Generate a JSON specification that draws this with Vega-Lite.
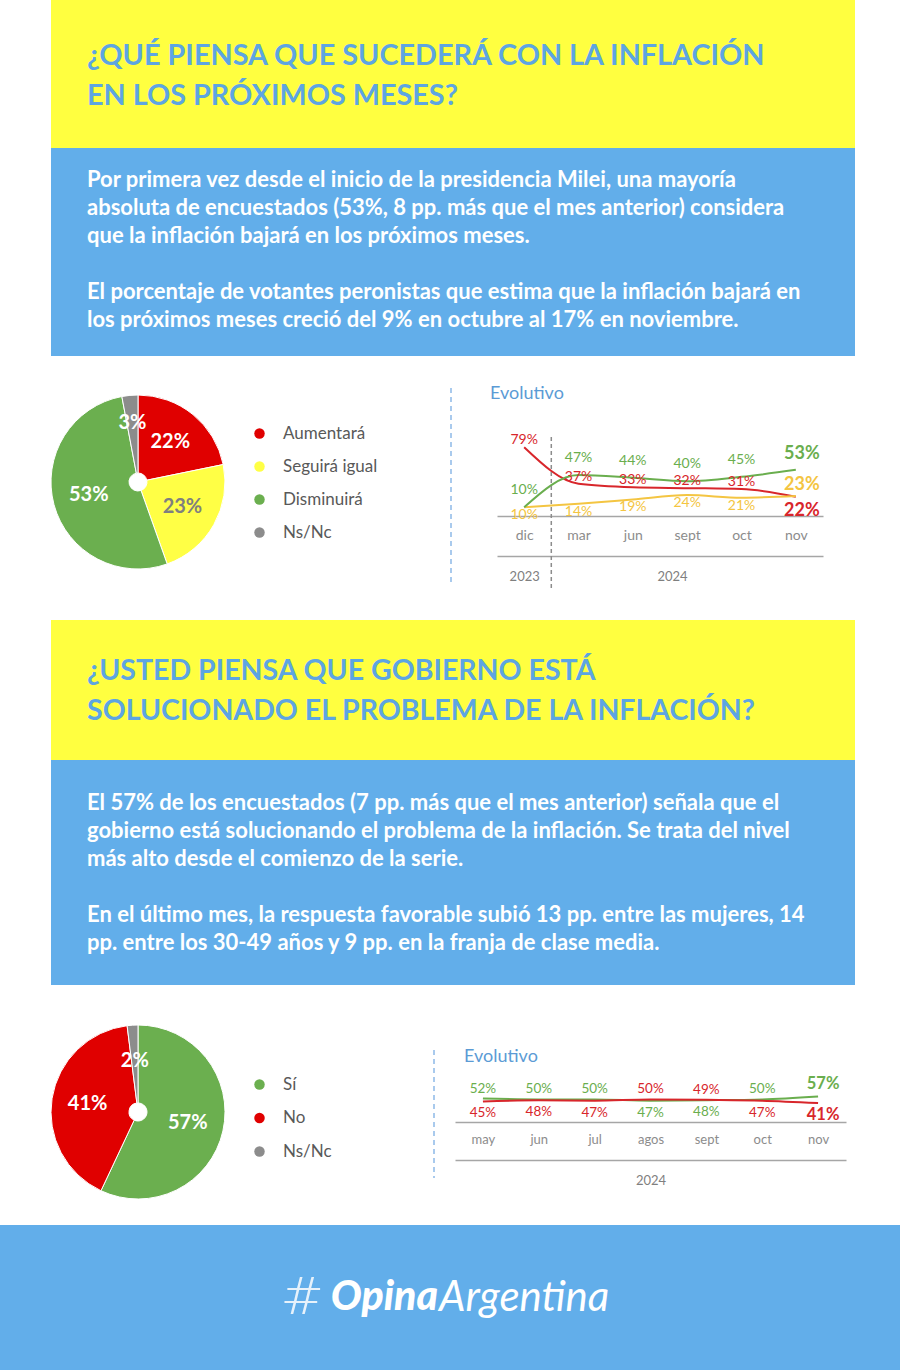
{
  "$schema": "https://vega.github.io/schema/vega-lite/v6.json",
  "background": "white",
  "padding": 0,
  "spacing": 0,
  "config": {"view": {"stroke": null}, "font": "Lato", "concat": {"spacing": 0}},
  "datasets": {
    "textos": [
      {"id": "t1", "texto": "¿QUÉ PIENSA QUE SUCEDERÁ CON LA INFLACIÓN\nEN LOS PRÓXIMOS MESES?"},
      {"id": "b1a", "texto": "Por primera vez desde el inicio de la presidencia Milei, una mayoría\nabsoluta de encuestados (53%, 8 pp. más que el mes anterior) considera\nque la inflación bajará en los próximos meses."},
      {"id": "b1b", "texto": "El porcentaje de votantes peronistas que estima que la inflación bajará en\nlos próximos meses creció del 9% en octubre al 17% en noviembre."},
      {"id": "t2", "texto": "¿USTED PIENSA QUE GOBIERNO ESTÁ\nSOLUCIONADO EL PROBLEMA DE LA INFLACIÓN?"},
      {"id": "b2a", "texto": "El 57% de los encuestados (7 pp. más que el mes anterior) señala que el\ngobierno está solucionando el problema de la inflación. Se trata del nivel\nmás alto desde el comienzo de la serie."},
      {"id": "b2b", "texto": "En el último mes, la respuesta favorable subió 13 pp. entre las mujeres, 14\npp. entre los 30-49 años y 9 pp. en la franja de clase media."},
      {"id": "evo", "texto": "Evolutivo"},
      {"id": "hash", "texto": "#"},
      {"id": "opina", "texto": "Opina"},
      {"id": "argentina", "texto": "Argentina"}
    ],
    "pie1": [
      {"cat": "Aumentará", "valor": 0.22, "orden": 1},
      {"cat": "Seguirá igual", "valor": 0.23, "orden": 2},
      {"cat": "Disminuirá", "valor": 0.53, "orden": 3},
      {"cat": "Ns/Nc", "valor": 0.03, "orden": 4}
    ],
    "pie2": [
      {"cat": "Sí", "valor": 0.57, "orden": 1},
      {"cat": "No", "valor": 0.41, "orden": 2},
      {"cat": "Ns/Nc", "valor": 0.02, "orden": 3}
    ],
    "evo1": [
      {"mes": "dic", "serie": "Aumentará", "valor": 0.79},
      {"mes": "mar", "serie": "Aumentará", "valor": 0.37},
      {"mes": "jun", "serie": "Aumentará", "valor": 0.33},
      {"mes": "sept", "serie": "Aumentará", "valor": 0.32},
      {"mes": "oct", "serie": "Aumentará", "valor": 0.31},
      {"mes": "nov", "serie": "Aumentará", "valor": 0.22},
      {"mes": "dic", "serie": "Seguirá igual", "valor": 0.10},
      {"mes": "mar", "serie": "Seguirá igual", "valor": 0.14},
      {"mes": "jun", "serie": "Seguirá igual", "valor": 0.19},
      {"mes": "sept", "serie": "Seguirá igual", "valor": 0.24},
      {"mes": "oct", "serie": "Seguirá igual", "valor": 0.21},
      {"mes": "nov", "serie": "Seguirá igual", "valor": 0.23},
      {"mes": "dic", "serie": "Disminuirá", "valor": 0.10},
      {"mes": "mar", "serie": "Disminuirá", "valor": 0.47},
      {"mes": "jun", "serie": "Disminuirá", "valor": 0.44},
      {"mes": "sept", "serie": "Disminuirá", "valor": 0.40},
      {"mes": "oct", "serie": "Disminuirá", "valor": 0.45},
      {"mes": "nov", "serie": "Disminuirá", "valor": 0.53}
    ],
    "evo2": [
      {"mes": "may", "serie": "Sí", "valor": 0.52},
      {"mes": "jun", "serie": "Sí", "valor": 0.50},
      {"mes": "jul", "serie": "Sí", "valor": 0.50},
      {"mes": "agos", "serie": "Sí", "valor": 0.47},
      {"mes": "sept", "serie": "Sí", "valor": 0.48},
      {"mes": "oct", "serie": "Sí", "valor": 0.50},
      {"mes": "nov", "serie": "Sí", "valor": 0.57},
      {"mes": "may", "serie": "No", "valor": 0.45},
      {"mes": "jun", "serie": "No", "valor": 0.48},
      {"mes": "jul", "serie": "No", "valor": 0.47},
      {"mes": "agos", "serie": "No", "valor": 0.50},
      {"mes": "sept", "serie": "No", "valor": 0.49},
      {"mes": "oct", "serie": "No", "valor": 0.47},
      {"mes": "nov", "serie": "No", "valor": 0.41}
    ]
  },
  "resolve": {"scale": {"color": "independent", "theta": "independent"}, "legend": {"color": "independent"}},
  "vconcat": [
    {
      "resolve": {"scale": {"color": "independent", "theta": "independent"}, "legend": {"color": "independent"}},
      "hconcat": [
        {"width": 51, "height": 1225, "data": {"name": "textos"}, "transform": [{"filter": "false"}], "mark": "text", "encoding": {"text": {"field": "texto", "type": "nominal"}}},
        {
          "spacing": 0,
          "resolve": {"scale": {"color": "independent", "theta": "independent"}, "legend": {"color": "independent"}},
          "vconcat": [
            {
              "spacing": 0, "bounds": "flush",
              "hconcat": [
                {"width": 36, "height": 148, "view": {"fill": "#FFFF40"}, "data": {"name": "textos"}, "transform": [{"filter": "false"}], "mark": "text", "encoding": {"text": {"field": "texto", "type": "nominal"}}},
                {"width": 768, "height": 148, "view": {"fill": "#FFFF40"}, "data": {"name": "textos"}, "transform": [{"filter": "datum.id === 't1'"}],
                 "mark": {"type": "text", "align": "left", "baseline": "middle", "lineBreak": "\n", "lineHeight": 40, "dy": -18, "fontSize": 28.8, "fontWeight": "bold", "color": "#5DA5E2"},
                 "encoding": {"text": {"field": "texto", "type": "nominal"}, "x": {"value": 0}}}
              ]
            },
            {
              "spacing": 0, "bounds": "flush",
              "hconcat": [
                {"width": 36, "height": 208, "view": {"fill": "#62AEEA"}, "data": {"name": "textos"}, "transform": [{"filter": "false"}], "mark": "text", "encoding": {"text": {"field": "texto", "type": "nominal"}}},
                {"width": 768, "height": 208, "view": {"fill": "#62AEEA"}, "data": {"name": "textos"},
                 "layer": [
                   {"transform": [{"filter": "datum.id === 'b1a'"}],
                    "mark": {"type": "text", "align": "left", "baseline": "middle", "lineBreak": "\n", "lineHeight": 28, "dy": -72, "fontSize": 22, "fontWeight": "bold", "color": "white"},
                    "encoding": {"text": {"field": "texto", "type": "nominal"}, "x": {"value": 0}}},
                   {"transform": [{"filter": "datum.id === 'b1b'"}],
                    "mark": {"type": "text", "align": "left", "baseline": "middle", "lineBreak": "\n", "lineHeight": 28, "dy": 40, "fontSize": 22, "fontWeight": "bold", "color": "white"},
                    "encoding": {"text": {"field": "texto", "type": "nominal"}, "x": {"value": 0}}}
                 ]}
              ]
            },
            {
              "spacing": 0, "bounds": "flush",
              "resolve": {"scale": {"color": "independent", "theta": "independent"}, "legend": {"color": "independent"}},
              "hconcat": [
                {
                  "width": 174, "height": 252, "data": {"name": "pie1"},
                  "encoding": {"theta": {"field": "valor", "type": "quantitative", "stack": true}, "order": {"field": "orden", "type": "quantitative"}},
                  "layer": [
                    {"mark": {"type": "arc", "innerRadius": 9, "stroke": "white", "strokeWidth": 1},
                     "encoding": {"color": {"field": "cat", "type": "nominal",
                       "scale": {"domain": ["Aumentará", "Seguirá igual", "Disminuirá", "Ns/Nc"], "range": ["#E00000", "#FFFF45", "#6BAF4F", "#8C8C8C"]},
                       "legend": {"orient": "none", "legendX": 200, "legendY": 69, "title": null, "symbolType": "circle", "symbolSize": 110, "symbolStrokeWidth": 0, "labelFontSize": 17, "labelColor": "#595959", "labelOffset": 15, "rowPadding": 15, "padding": 0}}}},
                    {"mark": {"type": "text", "radius": 51, "fontSize": 20, "fontWeight": "bold", "align": "center", "baseline": "middle"},
                     "encoding": {"detail": {"field": "cat", "type": "nominal"},
                       "text": {"condition": {"test": "datum.cat === 'Ns/Nc'", "value": ""}, "field": "valor", "type": "quantitative", "format": ".0%"},
                       "color": {"condition": {"test": "datum.cat === 'Seguirá igual'", "value": "#7F7F7F"}, "value": "white"}}},
                    {"mark": {"type": "text", "radius": 59, "fontSize": 20, "fontWeight": "bold", "align": "center", "baseline": "middle", "color": "white"},
                     "encoding": {"detail": {"field": "cat", "type": "nominal"},
                       "text": {"condition": {"test": "datum.cat !== 'Ns/Nc'", "value": ""}, "field": "valor", "type": "quantitative", "format": ".0%"}}}
                  ]
                },
                {
                  "width": 272, "height": 264, "data": {"name": "textos"}, "transform": [{"filter": "datum.id === 'evo'"}],
                  "layer": [
                    {"mark": {"type": "rule", "color": "#8DB9E8", "strokeDash": [5, 4], "strokeWidth": 1.5},
                     "encoding": {"x": {"value": 226}, "y": {"value": 32}, "y2": {"value": 229}}},
                    {"mark": {"type": "text", "align": "left", "baseline": "middle", "fontSize": 18, "color": "#5B9BD5"},
                     "encoding": {"text": {"field": "texto", "type": "nominal"}, "x": {"value": 265}, "y": {"value": 38}}}
                  ]
                },
                {
                  "width": 326, "height": 264, "data": {"name": "evo1"},
                  "resolve": {"axis": {"x": "independent"}},
                  "layer": [
                    {"mark": {"type": "line", "interpolate": "monotone", "strokeWidth": 2},
                     "encoding": {
                       "x": {"field": "mes", "type": "nominal", "sort": null, "scale": {"type": "point", "padding": 0.5, "domain": ["dic", "mar", "jun", "sept", "oct", "nov"]},
                             "axis": {"orient": "bottom", "offset": -104, "domain": true, "domainColor": "#A6A6A6", "domainWidth": 1.5, "ticks": false, "tickSize": 0, "grid": false, "labelPadding": 12, "labelFontSize": 14, "labelColor": "#8C8C8C", "labelAngle": 0, "title": null}},
                       "y": {"field": "valor", "type": "quantitative", "scale": {"domain": [-1.196, 1.839], "nice": false, "zero": false}, "axis": null},
                       "color": {"field": "serie", "type": "nominal", "scale": {"domain": ["Aumentará", "Seguirá igual", "Disminuirá"], "range": ["#D8262B", "#F4C542", "#6AAE4E"]}, "legend": null}}},
                    {"transform": [{"filter": "datum.serie === 'Aumentará' && datum.mes === 'mar'"}],
                     "mark": {"type": "rule", "color": "#8C8C8C", "strokeDash": [4, 3], "strokeWidth": 1.5, "xOffset": -27.2},
                     "encoding": {
                       "x": {"field": "mes", "type": "nominal", "sort": null, "scale": {"type": "point", "padding": 0.5, "domain": ["dic", "mar", "jun", "sept", "oct", "nov"]}, "axis": null},
                       "y": {"value": 81}, "y2": {"value": 232}}},
                    {"transform": [{"filter": "datum.serie === 'Disminuirá' && datum.mes !== 'nov'"}],
                     "mark": {"type": "text", "dy": -17, "fontSize": 14, "align": "center", "baseline": "middle"},
                     "encoding": {
                       "x": {"field": "mes", "type": "nominal", "sort": null, "scale": {"type": "point", "padding": 0.5, "domain": ["dic", "mar", "jun", "sept", "oct", "nov"]},
                             "axis": {"orient": "bottom", "offset": -64, "domain": true, "domainColor": "#A6A6A6", "domainWidth": 1.5, "ticks": false, "tickSize": 0, "grid": false, "labelPadding": 14, "labelFontSize": 13, "labelColor": "#7F7F7F", "labelAngle": 0, "title": null,
                                      "labelExpr": "datum.value === 'dic' ? '2023' : datum.value === 'sept' ? '2024' : ''",
                                      "labelAlign": {"condition": {"test": "datum.value === 'sept'", "value": "right"}, "value": "center"}}},
                       "y": {"field": "valor", "type": "quantitative", "scale": {"domain": [-1.196, 1.839], "nice": false, "zero": false}, "axis": null},
                       "color": {"field": "serie", "type": "nominal", "scale": {"domain": ["Aumentará", "Seguirá igual", "Disminuirá"], "range": ["#D8262B", "#F4C542", "#6AAE4E"]}, "legend": null},
                       "text": {"field": "valor", "type": "quantitative", "format": ".0%"}}},
                    {"transform": [{"filter": "datum.serie === 'Aumentará' && datum.mes !== 'nov'"}],
                     "mark": {"type": "text", "dy": -7, "fontSize": 14, "align": "center", "baseline": "middle"},
                     "encoding": {
                       "x": {"field": "mes", "type": "nominal", "sort": null, "scale": {"type": "point", "padding": 0.5, "domain": ["dic", "mar", "jun", "sept", "oct", "nov"]}, "axis": null},
                       "y": {"field": "valor", "type": "quantitative", "scale": {"domain": [-1.196, 1.839], "nice": false, "zero": false}, "axis": null},
                       "color": {"field": "serie", "type": "nominal", "scale": {"domain": ["Aumentará", "Seguirá igual", "Disminuirá"], "range": ["#D8262B", "#F4C542", "#6AAE4E"]}, "legend": null},
                       "text": {"field": "valor", "type": "quantitative", "format": ".0%"}}},
                    {"transform": [{"filter": "datum.serie === 'Seguirá igual' && datum.mes !== 'nov'"}],
                     "mark": {"type": "text", "dy": 8, "fontSize": 14, "align": "center", "baseline": "middle"},
                     "encoding": {
                       "x": {"field": "mes", "type": "nominal", "sort": null, "scale": {"type": "point", "padding": 0.5, "domain": ["dic", "mar", "jun", "sept", "oct", "nov"]}, "axis": null},
                       "y": {"field": "valor", "type": "quantitative", "scale": {"domain": [-1.196, 1.839], "nice": false, "zero": false}, "axis": null},
                       "color": {"field": "serie", "type": "nominal", "scale": {"domain": ["Aumentará", "Seguirá igual", "Disminuirá"], "range": ["#D8262B", "#F4C542", "#6AAE4E"]}, "legend": null},
                       "text": {"field": "valor", "type": "quantitative", "format": ".0%"}}},
                    {"transform": [{"filter": "datum.serie === 'Disminuirá' && datum.mes === 'nov'"}],
                     "mark": {"type": "text", "dy": -16, "dx": 6, "fontSize": 18, "fontWeight": "bold", "align": "center", "baseline": "middle"},
                     "encoding": {
                       "x": {"field": "mes", "type": "nominal", "sort": null, "scale": {"type": "point", "padding": 0.5, "domain": ["dic", "mar", "jun", "sept", "oct", "nov"]}, "axis": null},
                       "y": {"field": "valor", "type": "quantitative", "scale": {"domain": [-1.196, 1.839], "nice": false, "zero": false}, "axis": null},
                       "color": {"field": "serie", "type": "nominal", "scale": {"domain": ["Aumentará", "Seguirá igual", "Disminuirá"], "range": ["#D8262B", "#F4C542", "#6AAE4E"]}, "legend": null},
                       "text": {"field": "valor", "type": "quantitative", "format": ".0%"}}},
                    {"transform": [{"filter": "datum.serie === 'Aumentará' && datum.mes === 'nov'"}],
                     "mark": {"type": "text", "dy": 14, "dx": 6, "fontSize": 18, "fontWeight": "bold", "align": "center", "baseline": "middle"},
                     "encoding": {
                       "x": {"field": "mes", "type": "nominal", "sort": null, "scale": {"type": "point", "padding": 0.5, "domain": ["dic", "mar", "jun", "sept", "oct", "nov"]}, "axis": null},
                       "y": {"field": "valor", "type": "quantitative", "scale": {"domain": [-1.196, 1.839], "nice": false, "zero": false}, "axis": null},
                       "color": {"field": "serie", "type": "nominal", "scale": {"domain": ["Aumentará", "Seguirá igual", "Disminuirá"], "range": ["#D8262B", "#F4C542", "#6AAE4E"]}, "legend": null},
                       "text": {"field": "valor", "type": "quantitative", "format": ".0%"}}},
                    {"transform": [{"filter": "datum.serie === 'Seguirá igual' && datum.mes === 'nov'"}],
                     "mark": {"type": "text", "dy": -11, "dx": 6, "fontSize": 18, "fontWeight": "bold", "align": "center", "baseline": "middle"},
                     "encoding": {
                       "x": {"field": "mes", "type": "nominal", "sort": null, "scale": {"type": "point", "padding": 0.5, "domain": ["dic", "mar", "jun", "sept", "oct", "nov"]}, "axis": null},
                       "y": {"field": "valor", "type": "quantitative", "scale": {"domain": [-1.196, 1.839], "nice": false, "zero": false}, "axis": null},
                       "color": {"field": "serie", "type": "nominal", "scale": {"domain": ["Aumentará", "Seguirá igual", "Disminuirá"], "range": ["#D8262B", "#F4C542", "#6AAE4E"]}, "legend": null},
                       "text": {"field": "valor", "type": "quantitative", "format": ".0%"}}}
                  ]
                }
              ]
            },
            {
              "spacing": 0, "bounds": "flush",
              "hconcat": [
                {"width": 36, "height": 140, "view": {"fill": "#FFFF40"}, "data": {"name": "textos"}, "transform": [{"filter": "false"}], "mark": "text", "encoding": {"text": {"field": "texto", "type": "nominal"}}},
                {"width": 768, "height": 140, "view": {"fill": "#FFFF40"}, "data": {"name": "textos"}, "transform": [{"filter": "datum.id === 't2'"}],
                 "mark": {"type": "text", "align": "left", "baseline": "middle", "lineBreak": "\n", "lineHeight": 40, "dy": -19, "fontSize": 28.5, "fontWeight": "bold", "color": "#5DA5E2"},
                 "encoding": {"text": {"field": "texto", "type": "nominal"}, "x": {"value": 0}}}
              ]
            },
            {
              "spacing": 0, "bounds": "flush",
              "hconcat": [
                {"width": 36, "height": 225, "view": {"fill": "#62AEEA"}, "data": {"name": "textos"}, "transform": [{"filter": "false"}], "mark": "text", "encoding": {"text": {"field": "texto", "type": "nominal"}}},
                {"width": 768, "height": 225, "view": {"fill": "#62AEEA"}, "data": {"name": "textos"},
                 "layer": [
                   {"transform": [{"filter": "datum.id === 'b2a'"}],
                    "mark": {"type": "text", "align": "left", "baseline": "middle", "lineBreak": "\n", "lineHeight": 28, "dy": -69.5, "fontSize": 22, "fontWeight": "bold", "color": "white"},
                    "encoding": {"text": {"field": "texto", "type": "nominal"}, "x": {"value": 0}}},
                   {"transform": [{"filter": "datum.id === 'b2b'"}],
                    "mark": {"type": "text", "align": "left", "baseline": "middle", "lineBreak": "\n", "lineHeight": 28, "dy": 42.5, "fontSize": 22, "fontWeight": "bold", "color": "white"},
                    "encoding": {"text": {"field": "texto", "type": "nominal"}, "x": {"value": 0}}}
                 ]}
              ]
            },
            {
              "spacing": 0, "bounds": "flush",
              "resolve": {"scale": {"color": "independent", "theta": "independent"}, "legend": {"color": "independent"}},
              "hconcat": [
                {
                  "width": 174, "height": 240, "data": {"name": "pie2"},
                  "encoding": {"theta": {"field": "valor", "type": "quantitative", "stack": true}, "order": {"field": "orden", "type": "quantitative"}},
                  "layer": [
                    {"mark": {"type": "arc", "innerRadius": 9, "stroke": "white", "strokeWidth": 1, "yOffset": 7},
                     "encoding": {"color": {"field": "cat", "type": "nominal",
                       "scale": {"domain": ["Sí", "No", "Ns/Nc"], "range": ["#6BAF4F", "#E00000", "#8C8C8C"]},
                       "legend": {"orient": "none", "legendX": 200, "legendY": 91, "title": null, "symbolType": "circle", "symbolSize": 110, "symbolStrokeWidth": 0, "labelFontSize": 17, "labelColor": "#595959", "labelOffset": 15, "rowPadding": 15.5, "padding": 0}}}},
                    {"mark": {"type": "text", "radius": 51, "fontSize": 20, "fontWeight": "bold", "align": "center", "baseline": "middle", "color": "white", "yOffset": 7},
                     "encoding": {"detail": {"field": "cat", "type": "nominal"},
                       "text": {"field": "valor", "type": "quantitative", "format": ".0%"}}}
                  ]
                },
                {
                  "width": 230, "height": 240, "data": {"name": "textos"}, "transform": [{"filter": "datum.id === 'evo'"}],
                  "layer": [
                    {"mark": {"type": "rule", "color": "#8DB9E8", "strokeDash": [5, 4], "strokeWidth": 1.5},
                     "encoding": {"x": {"value": 209}, "y": {"value": 65}, "y2": {"value": 193}}},
                    {"mark": {"type": "text", "align": "left", "baseline": "middle", "fontSize": 18, "color": "#5B9BD5"},
                     "encoding": {"text": {"field": "texto", "type": "nominal"}, "x": {"value": 239}, "y": {"value": 72}}}
                  ]
                },
                {
                  "width": 391, "height": 240, "data": {"name": "evo2"},
                  "resolve": {"axis": {"x": "independent"}},
                  "transform": [{"joinaggregate": [{"op": "max", "field": "valor", "as": "maxv"}], "groupby": ["mes"]}],
                  "layer": [
                    {"mark": {"type": "line", "interpolate": "monotone", "strokeWidth": 2},
                     "encoding": {
                       "x": {"field": "mes", "type": "nominal", "sort": null, "scale": {"type": "point", "padding": 0.5, "domain": ["may", "jun", "jul", "agos", "sept", "oct", "nov"]},
                             "axis": {"orient": "bottom", "offset": -103, "domain": true, "domainColor": "#A6A6A6", "domainWidth": 1.5, "ticks": false, "tickSize": 0, "grid": false, "labelPadding": 11, "labelFontSize": 13, "labelColor": "#8C8C8C", "labelAngle": 0, "title": null}},
                       "y": {"field": "valor", "type": "quantitative", "scale": {"domain": [-2.545, 3.273], "nice": false, "zero": false}, "axis": null},
                       "color": {"field": "serie", "type": "nominal", "scale": {"domain": ["Sí", "No"], "range": ["#6AAE4E", "#D8262B"]}, "legend": null}}},
                    {"transform": [{"filter": "datum.valor >= datum.maxv && datum.mes !== 'nov'"}],
                     "mark": {"type": "text", "dy": -10, "fontSize": 13.5, "align": "center", "baseline": "middle"},
                     "encoding": {
                       "x": {"field": "mes", "type": "nominal", "sort": null, "scale": {"type": "point", "padding": 0.5, "domain": ["may", "jun", "jul", "agos", "sept", "oct", "nov"]},
                             "axis": {"orient": "bottom", "offset": -65, "domain": true, "domainColor": "#A6A6A6", "domainWidth": 1.5, "ticks": false, "tickSize": 0, "grid": false, "labelPadding": 14, "labelFontSize": 13, "labelColor": "#7F7F7F", "labelAngle": 0, "title": null,
                                      "labelExpr": "datum.value === 'agos' ? '2024' : ''"}},
                       "y": {"field": "valor", "type": "quantitative", "scale": {"domain": [-2.545, 3.273], "nice": false, "zero": false}, "axis": null},
                       "color": {"field": "serie", "type": "nominal", "scale": {"domain": ["Sí", "No"], "range": ["#6AAE4E", "#D8262B"]}, "legend": null},
                       "text": {"field": "valor", "type": "quantitative", "format": ".0%"}}},
                    {"transform": [{"filter": "datum.valor < datum.maxv && datum.mes !== 'nov'"}],
                     "mark": {"type": "text", "dy": 12, "fontSize": 13.5, "align": "center", "baseline": "middle"},
                     "encoding": {
                       "x": {"field": "mes", "type": "nominal", "sort": null, "scale": {"type": "point", "padding": 0.5, "domain": ["may", "jun", "jul", "agos", "sept", "oct", "nov"]}, "axis": null},
                       "y": {"field": "valor", "type": "quantitative", "scale": {"domain": [-2.545, 3.273], "nice": false, "zero": false}, "axis": null},
                       "color": {"field": "serie", "type": "nominal", "scale": {"domain": ["Sí", "No"], "range": ["#6AAE4E", "#D8262B"]}, "legend": null},
                       "text": {"field": "valor", "type": "quantitative", "format": ".0%"}}},
                    {"transform": [{"filter": "datum.valor >= datum.maxv && datum.mes === 'nov'"}],
                     "mark": {"type": "text", "dy": -13, "dx": 5, "fontSize": 16.5, "fontWeight": "bold", "align": "center", "baseline": "middle"},
                     "encoding": {
                       "x": {"field": "mes", "type": "nominal", "sort": null, "scale": {"type": "point", "padding": 0.5, "domain": ["may", "jun", "jul", "agos", "sept", "oct", "nov"]}, "axis": null},
                       "y": {"field": "valor", "type": "quantitative", "scale": {"domain": [-2.545, 3.273], "nice": false, "zero": false}, "axis": null},
                       "color": {"field": "serie", "type": "nominal", "scale": {"domain": ["Sí", "No"], "range": ["#6AAE4E", "#D8262B"]}, "legend": null},
                       "text": {"field": "valor", "type": "quantitative", "format": ".0%"}}},
                    {"transform": [{"filter": "datum.valor < datum.maxv && datum.mes === 'nov'"}],
                     "mark": {"type": "text", "dy": 12, "dx": 5, "fontSize": 16.5, "fontWeight": "bold", "align": "center", "baseline": "middle"},
                     "encoding": {
                       "x": {"field": "mes", "type": "nominal", "sort": null, "scale": {"type": "point", "padding": 0.5, "domain": ["may", "jun", "jul", "agos", "sept", "oct", "nov"]}, "axis": null},
                       "y": {"field": "valor", "type": "quantitative", "scale": {"domain": [-2.545, 3.273], "nice": false, "zero": false}, "axis": null},
                       "color": {"field": "serie", "type": "nominal", "scale": {"domain": ["Sí", "No"], "range": ["#6AAE4E", "#D8262B"]}, "legend": null},
                       "text": {"field": "valor", "type": "quantitative", "format": ".0%"}}}
                  ]
                }
              ]
            }
          ]
        }
      ],
      "spacing": 0,
      "bounds": "flush"
    },
    {
      "width": 900, "height": 145, "view": {"fill": "#62AEEA"}, "data": {"name": "textos"},
      "layer": [
        {"transform": [{"filter": "datum.id === 'hash'"}],
         "mark": {"type": "text", "align": "right", "baseline": "middle", "dx": -126, "fontSize": 52, "fontWeight": 300, "color": "white", "font": "DejaVu Sans", "opacity": 0.85},
         "encoding": {"text": {"field": "texto", "type": "nominal"}}},
        {"transform": [{"filter": "datum.id === 'opina'"}],
         "mark": {"type": "text", "align": "right", "baseline": "middle", "dx": -12, "fontSize": 41, "fontWeight": 900, "fontStyle": "italic", "color": "white"},
         "encoding": {"text": {"field": "texto", "type": "nominal"}}},
        {"transform": [{"filter": "datum.id === 'argentina'"}],
         "mark": {"type": "text", "align": "left", "baseline": "middle", "dx": -11, "fontSize": 42, "fontWeight": 400, "fontStyle": "italic", "color": "white"},
         "encoding": {"text": {"field": "texto", "type": "nominal"}}}
      ]
    }
  ]
}
